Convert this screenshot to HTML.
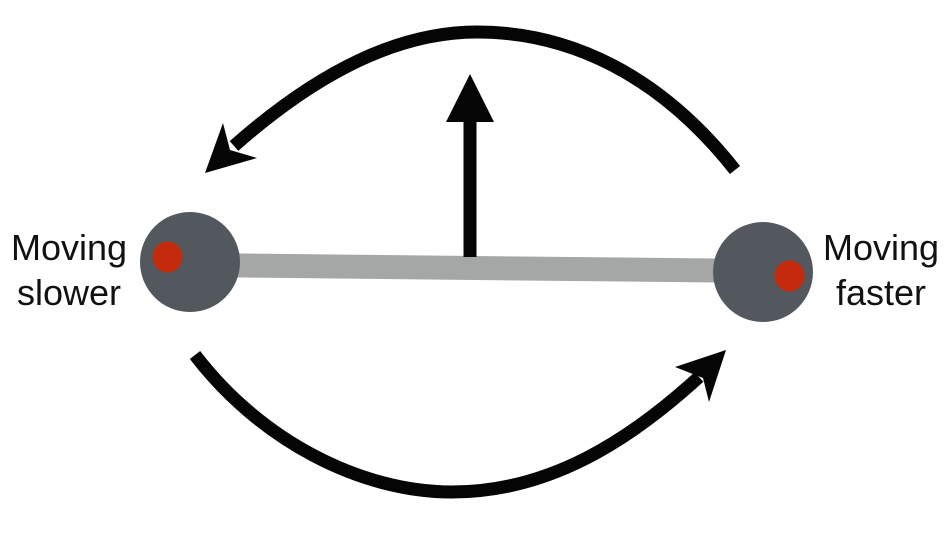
<!DOCTYPE html>
<html><head><style>
html,body{margin:0;padding:0;background:#fff;}
svg{display:block;}
text{font-family:"Liberation Sans",Arial,sans-serif;font-size:36px;fill:#111;}
</style></head><body>
<svg width="952" height="536" viewBox="0 0 952 536" xmlns="http://www.w3.org/2000/svg">
  <!-- top arc -->
  <path d="M735,170 C660,75 570,32 477,32 C400,32 320,70 234,146" fill="none" stroke="#050505" stroke-width="13"/>
  <polygon points="205,173 223,123 230,150 257,158" fill="#050505"/>
  <!-- bottom arc -->
  <path d="M195,355 C260,440 360,492 452,492 C550,492 630,440 699,377" fill="none" stroke="#050505" stroke-width="13"/>
  <polygon points="726,350 675,367 703,378 709,402" fill="#050505"/>
  <!-- rod -->
  <line x1="190" y1="265" x2="762" y2="271" stroke="#a4a7a6" stroke-width="24"/>
  <!-- vertical arrow -->
  <rect x="463.5" y="120" width="13" height="137" fill="#050505"/>
  <polygon points="470,74 446,122 494,122" fill="#050505"/>
  <!-- balls -->
  <ellipse cx="190" cy="262" rx="50" ry="50" fill="#53585f"/>
  <ellipse cx="168" cy="257" rx="15" ry="15.5" fill="#c42a0c"/>
  <ellipse cx="763" cy="272" rx="50" ry="50" fill="#53585f"/>
  <ellipse cx="790" cy="276" rx="15" ry="15.5" fill="#c42a0c"/>
  <!-- labels -->
  <g transform="translate(69,0) scale(1.0,1)">
    <text x="0" y="260" text-anchor="middle">Moving</text>
    <text x="0" y="305" text-anchor="middle">slower</text>
  </g>
  <g transform="translate(881,0) scale(1.0,1)">
    <text x="0" y="260" text-anchor="middle">Moving</text>
    <text x="0" y="305" text-anchor="middle">faster</text>
  </g>
</svg>
</body></html>
